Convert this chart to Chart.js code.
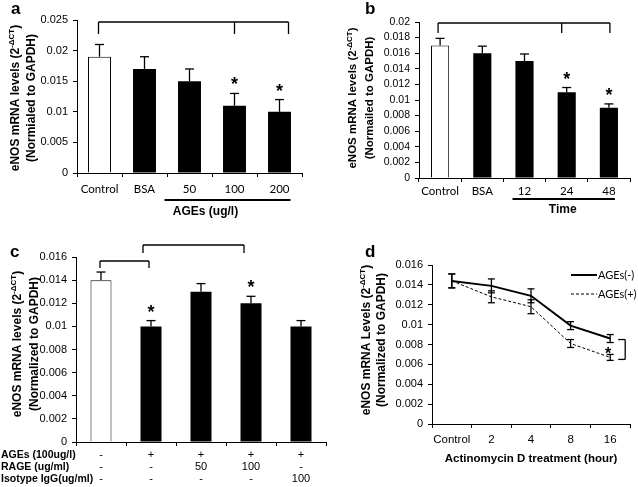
<!DOCTYPE html>
<html>
<head>
<meta charset="utf-8">
<script src="https://cdn.jsdelivr.net/npm/chart.js@4.4.1/dist/chart.umd.min.js"></script>
<style>
  body { margin: 0; background: #fff; }
  #wrap { position: relative; width: 638px; height: 487px; overflow: hidden; }
  canvas { position: absolute; }
  .tag { position: absolute; font: bold 17px "Liberation Sans", Arial, sans-serif; line-height: 17px; }
</style>
</head>
<body>
<div id="wrap">
  <canvas id="cA" width="320" height="240" style="left:0;top:0"></canvas>
  <canvas id="cB" width="318" height="240" style="left:320px;top:0"></canvas>
  <canvas id="cC" width="330" height="247" style="left:0;top:240px"></canvas>
  <canvas id="cD" width="318" height="247" style="left:320px;top:240px"></canvas>
  <div class="tag" style="left:11px;top:0">a</div>
  <div class="tag" style="left:365px;top:0">b</div>
  <div class="tag" style="left:10px;top:243px">c</div>
  <div class="tag" style="left:365px;top:243px">d</div>
</div>
<script>
// panel a - AGEs dose
const catsA = ['Control', 'BSA', '50', '100', '200'];
const meanA = [0.019, 0.017, 0.015, 0.011, 0.010];
const sdA = [0.002, 0.002, 0.002, 0.002, 0.002];
const starA = [false, false, false, true, true];

// panel b - time course
const catsB = ['Control', 'BSA', '12', '24', '48'];
const meanB = [0.017, 0.016, 0.015, 0.011, 0.009];
const sdB = [0.0009, 0.0009, 0.0009, 0.0006, 0.0005];
const starB = [false, false, false, true, true];

// panel c - RAGE blocking
const agesRow = ['-', '+', '+', '+', '+'];
const rageRow = ['-', '-', '50', '100', '-'];
const iggRow = ['-', '-', '-', '-', '100'];
const meanC = [0.014, 0.010, 0.013, 0.012, 0.010];
const sdC = [0.0007, 0.0005, 0.0007, 0.0006, 0.0005];
const starC = [false, true, false, true, false];

// panel d - actinomycin D
const catsD = ['Control', '2', '4', '8', '16'];
const agesNeg = [0.0144, 0.0139, 0.0129, 0.0099, 0.0086];
const sdNeg = [0.0007, 0.0007, 0.0007, 0.0004, 0.0004];
const agesPos = [0.0144, 0.0128, 0.0118, 0.0081, 0.0067];
const sdPos = [0.0007, 0.0006, 0.0007, 0.0004, 0.0003];

const SANS = '"Liberation Sans", Arial, sans-serif';

function line(ctx, x1, y1, x2, y2) {
    ctx.beginPath();
    ctx.moveTo(x1, y1);
    ctx.lineTo(x2, y2);
    ctx.stroke();
}

function star(ctx, x, y) {
    ctx.font = 'bold 18px ' + SANS;
    ctx.textAlign = 'center';
    ctx.textBaseline = 'alphabetic';
    ctx.fillText('*', x, y);
}

// rotated two-line axis title with a superscript exponent
function yTitle(ctx, cx, cy, gap, size, main, sup, second) {
    ctx.save();
    ctx.translate(cx, cy);
    ctx.rotate(-Math.PI / 2);
    ctx.fillStyle = '#000';
    ctx.textBaseline = 'middle';
    ctx.textAlign = 'left';
    const f1 = 'bold ' + size + 'px ' + SANS;
    const f2 = 'bold ' + Math.round(size * 0.68) + 'px ' + SANS;
    ctx.font = f1;
    const w1 = ctx.measureText(main).width;
    const w3 = ctx.measureText(')').width;
    ctx.font = f2;
    const w2 = ctx.measureText(sup).width;
    let x = -(w1 + w2 + w3) / 2;
    const y1 = -gap / 2;
    ctx.font = f1;
    ctx.fillText(main, x, y1);
    ctx.font = f2;
    ctx.fillText(sup, x + w1, y1 - size * 0.32);
    ctx.font = f1;
    ctx.fillText(')', x + w1 + w2, y1);
    ctx.textAlign = 'center';
    ctx.fillText(second, 0, gap / 2);
    ctx.restore();
}

const tickFmt = v => String(+v.toFixed(4));

function barPanel(id, cfg) {
    return new Chart(document.getElementById(id), {
        type: 'bar',
        data: {
            labels: cfg.labels,
            datasets: [{
                data: cfg.mean,
                backgroundColor: cfg.mean.map((v, i) => i === 0 ? '#fff' : '#000'),
                borderColor: '#000',
                borderWidth: cfg.mean.map((v, i) => i === 0 ? 1 : 0),
                barPercentage: cfg.barPct,
                categoryPercentage: 1
            }]
        },
        options: {
            responsive: false,
            animation: false,
            layout: { padding: cfg.pad },
            plugins: { legend: { display: false }, tooltip: { enabled: false } },
            scales: {
                x: {
                    grid: { drawOnChartArea: false, color: '#000', tickLength: 4 },
                    border: { color: '#000' },
                    ticks: { color: '#000', font: cfg.xFont, padding: cfg.xPad, maxRotation: 0, autoSkip: false },
                    afterFit: s => { s.height = cfg.xh; }
                },
                y: {
                    min: 0,
                    max: cfg.max,
                    ticks: { stepSize: cfg.step, color: '#000', font: cfg.yFont, padding: 5, callback: tickFmt },
                    grid: { drawOnChartArea: false, color: '#000', tickLength: 4 },
                    border: { color: '#000' },
                    afterFit: s => { s.width = cfg.yw; }
                }
            }
        },
        plugins: [{
            id: 'extras',
            afterDraw(chart) {
                const ctx = chart.ctx;
                const xs = chart.scales.x, ys = chart.scales.y;
                ctx.save();
                ctx.strokeStyle = '#000';
                ctx.fillStyle = '#000';
                ctx.lineWidth = 1.3;
                cfg.mean.forEach((m, i) => {
                    const x = xs.getPixelForValue(i);
                    const y0 = ys.getPixelForValue(m);
                    const y1 = ys.getPixelForValue(m + cfg.sd[i]);
                    line(ctx, x, y0, x, y1);
                    line(ctx, x - 4.5, y1, x + 4.5, y1);
                    if (cfg.star[i]) star(ctx, x, y1 - 3);
                });
                cfg.extra(ctx, xs, ys, chart.chartArea);
                yTitle(ctx, cfg.title[0], cfg.title[1], cfg.title[2], cfg.title[3], cfg.title[4], '-\u0394CT', cfg.title[5]);
                ctx.restore();
            }
        }]
    });
}

barPanel('cA', {
    labels: catsA, mean: meanA, sd: sdA, star: starA,
    barPct: 0.51, max: 0.025, step: 0.005,
    pad: { top: 20, right: 18, left: 0, bottom: 0 }, yw: 77, xh: 67, xPad: 5,
    xFont: { family: 'Lato', size: 11.5 }, yFont: { family: 'Liberation Sans', size: 11 },
    title: [23.5, 98, 16, 12, 'eNOS mRNA levels (2', '(Normialed to GAPDH)'],
    extra(ctx, xs, ys, area) {
        const p = i => xs.getPixelForValue(i);
        const top = area.top + 2;
        line(ctx, p(0) - 1, top, p(4) + 9, top);
        line(ctx, p(0) - 1, top, p(0) - 1, top + 12);
        line(ctx, p(3), top, p(3), top + 12);
        line(ctx, p(4) + 9, top, p(4) + 9, top + 12);
        ctx.lineWidth = 2;
        line(ctx, p(2) - 25, 200, p(4) + 11, 200);
        ctx.font = 'bold 12px ' + SANS;
        ctx.textAlign = 'center';
        ctx.textBaseline = 'middle';
        ctx.fillText('AGEs (ug/l)', p(3) - 29, 212);
    }
});

barPanel('cB', {
    labels: catsB, mean: meanB, sd: sdB, star: starB,
    barPct: 0.43, max: 0.02, step: 0.002,
    pad: { top: 22, right: 8, left: 0, bottom: 0 }, yw: 99, xh: 62, xPad: 2,
    xFont: { family: 'Lato', size: 11.5 }, yFont: { family: 'Liberation Sans', size: 10.5 },
    title: [41.5, 98, 17, 11.5, 'eNOS mRNA levels (2', '(Normailed to GAPDH)'],
    extra(ctx, xs, ys, area) {
        const p = i => xs.getPixelForValue(i);
        const top = area.top + 1;
        line(ctx, p(0) - 2, top, p(4) + 1, top);
        line(ctx, p(0) - 2, top, p(0) - 2, top + 10);
        line(ctx, p(3) - 5, top, p(3) - 5, top + 10);
        line(ctx, p(4) + 1, top, p(4) + 1, top + 10);
        ctx.lineWidth = 2;
        line(ctx, p(2) - 12, 199, p(4) + 6, 199);
        ctx.font = 'bold 12px ' + SANS;
        ctx.textAlign = 'center';
        ctx.textBaseline = 'middle';
        ctx.fillText('Time', p(3) - 4, 210);
    }
});

barPanel('cC', {
    labels: agesRow.map((a, i) => [a, rageRow[i], iggRow[i]]),
    mean: meanC, sd: sdC, star: starC,
    barPct: 0.42, max: 0.016, step: 0.002,
    pad: { top: 17, right: 4, left: 0, bottom: 0 }, yw: 76, xh: 45, xPad: 3,
    xFont: { family: 'Liberation Sans', size: 11, lineHeight: 1.09 }, yFont: { family: 'Liberation Sans', size: 11 },
    title: [26, 104, 17, 12, 'eNOS mRNA levels (2', '(Normalized to GAPDH)'],
    extra(ctx, xs, ys, area) {
        const p = i => xs.getPixelForValue(i);
        // control vs AGEs
        line(ctx, p(0) - 1, 21, p(1) - 2, 21);
        line(ctx, p(0) - 1, 21, p(0) - 1, 28);
        line(ctx, p(1) - 2, 21, p(1) - 2, 28);
        // AGEs vs AGEs + RAGE
        line(ctx, p(1) - 8, 5, p(3) - 7, 5);
        line(ctx, p(1) - 8, 5, p(1) - 8, 13);
        line(ctx, p(3) - 7, 5, p(3) - 7, 13);
        ctx.font = 'bold 10.5px ' + SANS;
        ctx.textAlign = 'left';
        ctx.textBaseline = 'middle';
        ctx.fillText('AGEs (100ug/l)', 1, 215);
        ctx.fillText('RAGE (ug/ml)', 1, 227);
        ctx.fillText('Isotype IgG(ug/ml)', 1, 239);
    }
});

new Chart(document.getElementById('cD'), {
    type: 'line',
    data: {
        labels: catsD,
        datasets: [
            { label: 'AGEs(-)', data: agesNeg, borderColor: '#000', borderWidth: 2, pointRadius: 0, tension: 0, fill: false },
            { label: 'AGEs(+)', data: agesPos, borderColor: '#000', borderWidth: 1, borderDash: [3, 2], pointRadius: 0, tension: 0, fill: false }
        ]
    },
    options: {
        responsive: false,
        animation: false,
        layout: { padding: { top: 25, right: 8, left: 0, bottom: 0 } },
        plugins: { legend: { display: false }, tooltip: { enabled: false } },
        scales: {
            x: {
                offset: true,
                grid: { offset: true, drawOnChartArea: false, color: '#000', tickLength: 4 },
                border: { color: '#000' },
                ticks: { color: '#000', font: { family: 'Liberation Sans', size: 11.5 }, padding: 5, maxRotation: 0, autoSkip: false },
                title: { display: true, text: 'Actinomycin D treatment (hour)', color: '#000',
                         font: { family: 'Liberation Sans', size: 11.5, weight: 'bold' }, padding: { top: 0, bottom: 21 } },
                afterFit: s => { s.height = 63; }
            },
            y: {
                min: 0,
                max: 0.016,
                ticks: { stepSize: 0.002, color: '#000', font: { family: 'Liberation Sans', size: 11 }, padding: 5, callback: tickFmt },
                grid: { drawOnChartArea: false, color: '#000', tickLength: 4 },
                border: { color: '#000' },
                afterFit: s => { s.width = 112; }
            }
        }
    },
    plugins: [{
        id: 'extrasD',
        afterDraw(chart) {
            const ctx = chart.ctx;
            const xs = chart.scales.x, ys = chart.scales.y;
            ctx.save();
            ctx.strokeStyle = '#000';
            ctx.fillStyle = '#000';
            ctx.lineWidth = 1.3;
            [[agesNeg, sdNeg], [agesPos, sdPos]].forEach(([m, sd]) => {
                m.forEach((v, i) => {
                    const x = xs.getPixelForValue(i);
                    const a = ys.getPixelForValue(v + sd[i]);
                    const b = ys.getPixelForValue(v - sd[i]);
                    line(ctx, x, a, x, b);
                    line(ctx, x - 3.5, a, x + 3.5, a);
                    line(ctx, x - 3.5, b, x + 3.5, b);
                });
            });
            // significance bracket at 16 h
            const xl = xs.getPixelForValue(4);
            const ya = ys.getPixelForValue(agesNeg[4]);
            const yb = ys.getPixelForValue(agesPos[4]);
            line(ctx, xl + 15, ya + 1, xl + 15, yb + 2);
            line(ctx, xl + 8, ya + 1, xl + 15, ya + 1);
            line(ctx, xl + 8, yb + 2, xl + 15, yb + 2);
            ctx.font = 'bold 16px ' + SANS;
            ctx.textAlign = 'center';
            ctx.textBaseline = 'alphabetic';
            ctx.fillText('*', xl - 2, (ya + yb) / 2 + 11);
            // legend
            ctx.lineWidth = 2;
            line(ctx, 251, 35, 277, 35);
            ctx.lineWidth = 1;
            ctx.setLineDash([3, 2]);
            line(ctx, 251, 54, 277, 54);
            ctx.setLineDash([]);
            ctx.font = '11px Lato';
            ctx.textAlign = 'left';
            ctx.textBaseline = 'middle';
            ctx.fillText(chart.data.datasets[0].label, 278, 35);
            ctx.fillText(chart.data.datasets[1].label, 278, 54);
            yTitle(ctx, 54.5, 100, 15, 12, 'eNOS mRNA Levels (2', '-\u0394CT', '(Normalized to GAPDH)');
            ctx.restore();
        }
    }]
});
</script>
</body>
</html>
